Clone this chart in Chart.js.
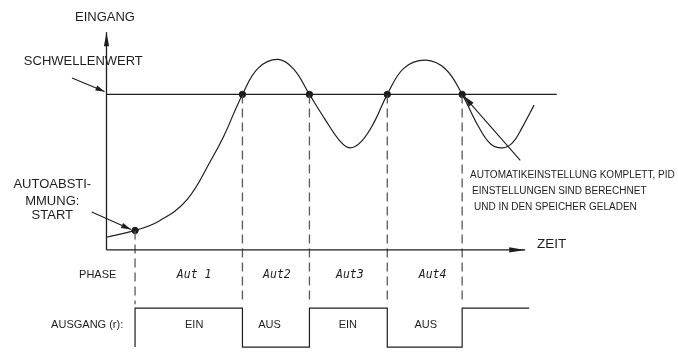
<!DOCTYPE html>
<html>
<head>
<meta charset="utf-8">
<script src="https://cdn.jsdelivr.net/npm/chart.js@4"></script>
<style>
  html, body { margin: 0; padding: 0; background: #fff; }
  canvas { display: block; }
</style>
</head>
<body>
<canvas id="chart" width="678" height="354"></canvas>
<script>
// ================= Data =================
// time (t) and input (v) of the measured curve
const curveT = [0, 2.9, 5.4, 8.2, 10.7, 11.9, 13.8, 15.4, 17.4, 19.0, 20.6, 22.2, 23.7, 24.7, 25.9, 27.2, 28.5, 30.2, 32.4, 34.4, 36.1, 37.7, 39.0, 40.2, 41.2, 42.2, 43.4];
const curveV = [8.1, 12.5, 18.8, 32.5, 58.8, 73.1, 100, 116.9, 122.5, 116.3, 100, 83.8, 70, 65.6, 70, 82.5, 100, 116.9, 122, 116.3, 100, 80, 68.1, 65.6, 68.8, 78.8, 93.1];

const threshold = 100;
const thresholdEnd = 45.7;
const timeAxisEnd = 42.5;
const inputAxisEnd = 140;

// crossing points (autotune start + threshold crossings)
const crossT = [2.9, 13.8, 20.6, 28.5, 36.1];
const crossV = [12.5, 100, 100, 100, 100];

// phase row
const phaseLabels = ["Aut 1", "Aut2", "Aut3", "Aut4"];
const phaseT = [8.9, 17.3, 24.7, 33.1];
const phaseRow = -16.25;

// output row (r)
const outputLabels = ["EIN", "AUS", "EIN", "AUS"];
const outputLabelT = [8.9, 16.55, 24.5, 32.4];
const outputEdges = [2.9, 13.8, 20.6, 28.5, 36.1, 42.9];
const outputStates = [1, 0, 1, 0, 1];
const outputHigh = -37.5;
const outputLow = -62.5;
const outputRow = -48;

const X_MIN = -10.3, X_MAX = 57.5, Y_MIN = -63.75, Y_MAX = 157.5;

const INK = "#1e1e1e";
const FONT = "'Liberation Sans', Arial, sans-serif";

// ================= Build datasets =================
const curvePts = curveT.map((t, i) => ({ x: t, y: curveV[i] }));
const dotPts = crossT.map((t, i) => ({ x: t, y: crossV[i] }));

const dashPts = [];
crossT.forEach((t, i) => {
  dashPts.push({ x: t, y: crossV[i] }, { x: t, y: outputHigh + 2.5 }, { x: t, y: null });
});

const wavePts = [{ x: outputEdges[0], y: outputLow }];
outputStates.forEach((s, i) => {
  const lvl = s ? outputHigh : outputLow;
  wavePts.push({ x: outputEdges[i], y: lvl }, { x: outputEdges[i + 1], y: lvl });
  if (i < outputStates.length - 1) {
    wavePts.push({ x: outputEdges[i + 1], y: outputStates[i + 1] ? outputHigh : outputLow });
  }
});

// ================= Annotation plugin =================
function arrow(ctx, x1, y1, x2, y2, len, half) {
  const a = Math.atan2(y2 - y1, x2 - x1);
  ctx.beginPath(); ctx.moveTo(x1, y1); ctx.lineTo(x2, y2); ctx.stroke();
  ctx.beginPath();
  ctx.moveTo(x2, y2);
  ctx.lineTo(x2 - len * Math.cos(a) + half * Math.sin(a), y2 - len * Math.sin(a) - half * Math.cos(a));
  ctx.lineTo(x2 - len * Math.cos(a) - half * Math.sin(a), y2 - len * Math.sin(a) + half * Math.cos(a));
  ctx.closePath(); ctx.fill();
}

const annotations = {
  id: "annotations",
  afterDatasetsDraw(chart) {
    const { ctx, scales: { x, y } } = chart;
    const px = (t) => x.getPixelForValue(t), py = (v) => y.getPixelForValue(v);
    ctx.save();
    ctx.strokeStyle = INK; ctx.fillStyle = INK; ctx.lineWidth = 1.3;

    // axes
    arrow(ctx, px(0), py(0), px(0), py(inputAxisEnd), 14, 2.6);
    arrow(ctx, px(0), py(0), px(timeAxisEnd), py(0), 16, 2.6);
    // pointers
    ctx.lineWidth = 1.1;
    arrow(ctx, px(-3.5), py(110.6), px(-0.2), py(101.9), 9, 2.6);
    arrow(ctx, px(-1.5), py(24.4), px(2.5), py(13.1), 10, 2.8);
    arrow(ctx, px(42.0), py(57.5), px(36.3), py(98.75), 11, 3);

    // texts
    ctx.textBaseline = "middle";
    ctx.textAlign = "center";
    ctx.font = "13px " + FONT;
    ctx.fillText("EINGANG", px(-0.15), py(149.4));
    ctx.fillText("SCHWELLENWERT", px(-2.35), py(121.25));
    ctx.fillText("AUTOABSTI-", px(-5.5), py(41.9));
    ctx.fillText("MMUNG:", px(-5.5), py(31.25));
    ctx.fillText("START", px(-5.5), py(21.9));
    ctx.textAlign = "left";
    ctx.font = "13.5px " + FONT;
    ctx.fillText("ZEIT", px(43.7), py(3.75));
    ctx.font = "10px " + FONT;
    ctx.fillText("AUTOMATIKEINSTELLUNG KOMPLETT, PID", px(36.9), py(48.1));
    ctx.fillText("EINSTELLUNGEN SIND BERECHNET", px(37.1), py(37.5));
    ctx.fillText("UND IN DEN SPEICHER GELADEN", px(37.3), py(27.5));

    ctx.font = "11px " + FONT;
    ctx.textAlign = "right";
    ctx.fillText("PHASE", px(1.0), py(phaseRow));
    ctx.fillText("AUSGANG (r):", px(1.7), py(outputRow));
    ctx.textAlign = "center";
    outputLabels.forEach((s, i) => ctx.fillText(s, px(outputLabelT[i]), py(outputRow)));
    ctx.font = "italic 11.5px 'DejaVu Sans Mono', monospace";
    phaseLabels.forEach((s, i) => ctx.fillText(s, px(phaseT[i]), py(phaseRow)));
    ctx.restore();
  }
};

// ================= Chart =================
new Chart(document.getElementById("chart").getContext("2d"), {
  type: "line",
  data: {
    datasets: [
      { data: curvePts, borderColor: INK, borderWidth: 1.2, pointRadius: 0, tension: 0.4 },
      { data: [{ x: 0, y: threshold }, { x: thresholdEnd, y: threshold }], borderColor: INK, borderWidth: 1.3, pointRadius: 0 },
      { data: dashPts, borderColor: "#5a5a5a", borderWidth: 1.3, borderDash: [9, 5], pointRadius: 0, spanGaps: false },
      { data: wavePts, borderColor: INK, borderWidth: 1.2, pointRadius: 0 },
      { data: dotPts, showLine: false, pointRadius: 3.2, pointBackgroundColor: INK, pointBorderColor: INK }
    ]
  },
  options: {
    responsive: false,
    animation: false,
    layout: { padding: 0 },
    plugins: { legend: { display: false }, tooltip: { enabled: false } },
    scales: {
      x: { type: "linear", min: X_MIN, max: X_MAX, display: false },
      y: { type: "linear", min: Y_MIN, max: Y_MAX, display: false }
    }
  },
  plugins: [annotations]
});
</script>
</body>
</html>
